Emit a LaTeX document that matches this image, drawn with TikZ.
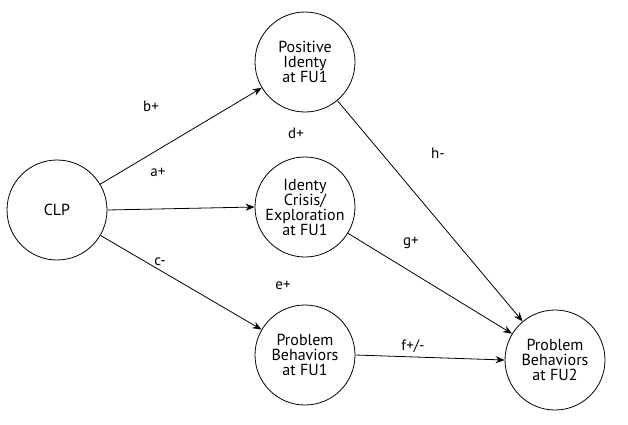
\documentclass[tikz,border=0pt]{standalone}
\usepackage{fontspec}
\setmainfont{PT Sans}
\usetikzlibrary{arrows.meta}
\begin{document}
\begin{tikzpicture}[x=1pt,y=-1pt,
  c/.style={circle,draw,line width=0.8pt,minimum size=100pt,inner sep=0pt,align=center,font=\fontsize{16}{15}\selectfont},
  a/.style={draw,line width=0.8pt,-{Stealth[length=9pt,width=7pt]}},
  l/.style={font=\fontsize{15}{15}\selectfont}]
\useasboundingbox (0,0) rectangle (628,424);
\node[c] (clp) at (57,210) {CLP};
\node[c] (pi) at (305,62) {Positive\\Identy\\at FU1};
\node[c] (ic) at (305,207) {Identy\\Crisis/\\Exploration\\at FU1};
\node[c] (pb) at (305,355) {Problem\\Behaviors\\at FU1};
\node[c] (f2) at (555,360) {Problem\\Behaviors\\at FU2};
\draw[a] (clp) -- (pi);
\draw[a] (clp.east) -- (ic.west);
\draw[a] (clp) -- (pb);
\draw[a] (pi) -- (f2);
\draw[a] (ic) -- (f2);
\draw[a] (pb.east) -- (f2.west);
\node[l] (lb) at (151,106) {b+};
\node[l] (ld) at (296,133) {d+};
\node[l] (la) at (158,172) {a+};
\node[l] (lh) at (438,153) {h-};
\node[l] (lg) at (411,243) {g+};
\node[l] (lc) at (160,262) {c-};
\node[l] (le) at (283,285) {e+};
\node[l] (lf) at (413,346) {f+/-};
\end{tikzpicture}
\end{document}
